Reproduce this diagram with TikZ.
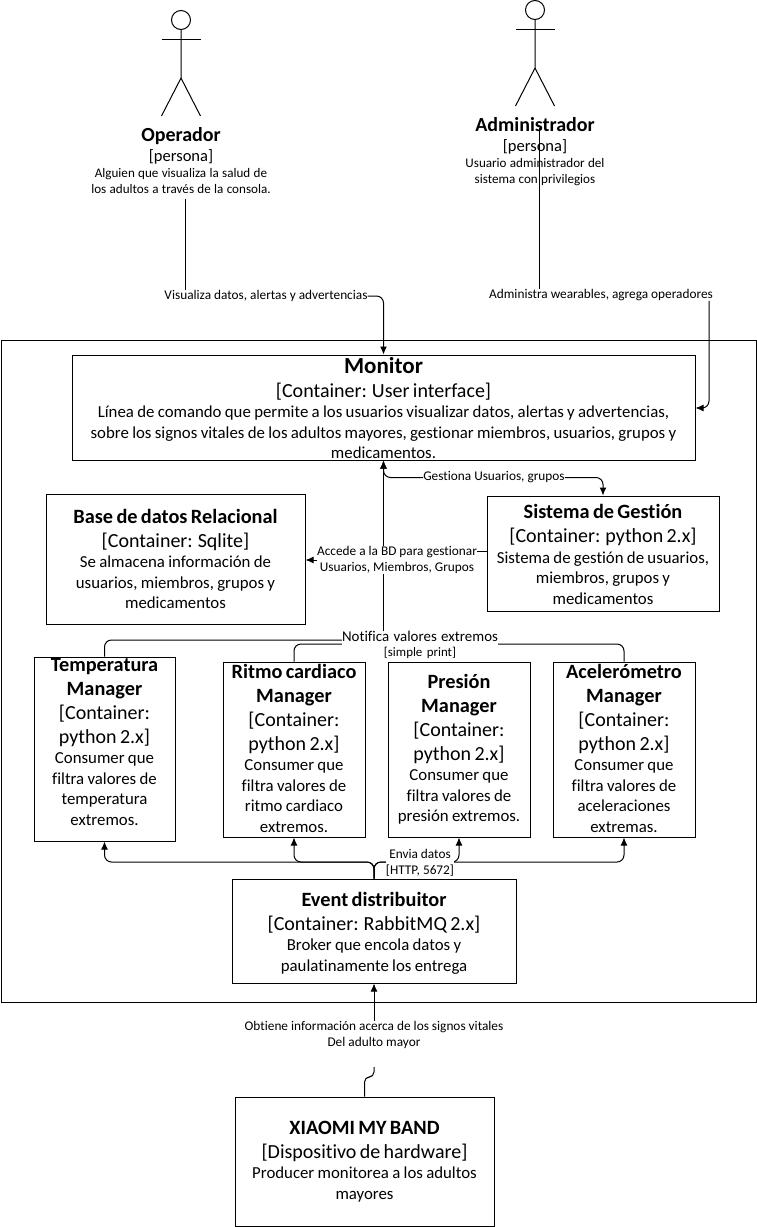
\documentclass[tikz,border=0pt]{standalone}
\usepackage{fontspec}
\usetikzlibrary{arrows.meta}
\setmainfont[Ligatures=NoCommon]{Carlito}
\newcommand{\ctitle}[1]{{\fontsize{20.3}{24}\selectfont\bfseries #1\par}}
\newcommand{\csub}[1]{{\fontsize{20}{24}\selectfont #1\par}}
\newcommand{\cdesc}[1]{{\fontsize{16.8}{20.5}\selectfont #1\par}}
\newcommand{\ptitle}[1]{{\fontsize{20}{22}\selectfont\bfseries #1\par}}
\newcommand{\psub}[1]{{\fontsize{16.5}{20}\selectfont #1\par}}
\newcommand{\pdesc}[1]{{\fontsize{13.1}{16}\selectfont #1\par}}
\newcommand{\actorfig}[2]{%
    \node[head] (#1) at (#2) {};
    \draw[conn] (#1.south) -- ++(0,48) coordinate (#1hip) -- ++(-19.5,38);
    \draw[conn] (#1hip) -- ++(19.5,38);
    \draw[conn] ([yshift=-9.5]#1.south) ++(-19.5,0) -- ++(39,0);
}
\begin{document}
\begin{tikzpicture}[x=1pt,y=-1pt,
    conn/.style={line width=1pt},
    aconn/.style={line width=1pt,-{Latex[length=8pt,width=7pt]},rounded corners=7},
    head/.style={draw,circle,line width=1pt,minimum size=19,inner sep=0pt},
    rnode/.style={draw,rectangle,line width=1pt,inner sep=0pt},
    btext/.style={align=center,inner sep=0pt},
    lbl/.style={fill=white,align=center,inner sep=0pt,font=\fontsize{13.3}{16}\selectfont}]
    \useasboundingbox (0,0) rectangle (757,1227);

    \node[rnode,minimum width=755,minimum height=662] (system) at (378.5,671) {};

    % boxes
    \node[rnode,minimum width=623,minimum height=105] (mon) at (383.5,407.5) {};
    \node[rnode,minimum width=259,minimum height=130] (base) at (175.5,559) {};
    \node[rnode,minimum width=232,minimum height=115] (sis) at (603,553.5) {};
    \node[rnode,minimum width=141,minimum height=184] (temp) at (104.5,749) {};
    \node[rnode,minimum width=142,minimum height=175] (ritmo) at (294,749.5) {};
    \node[rnode,minimum width=142,minimum height=175] (pres) at (459,749.5) {};
    \node[rnode,minimum width=142,minimum height=175] (acel) at (624,749.5) {};
    \node[rnode,minimum width=284,minimum height=104] (event) at (374,931) {};
    \node[rnode,minimum width=259,minimum height=129] (xiaomi) at (364.5,1161.5) {};

    % texts of the boxes
    \node[btext,text width=620] (montxt) at (383.5,408) {{\fontsize{23}{25}\selectfont\bfseries Monitor\par}\csub{[Container: User interface]}\cdesc{Línea de comando que permite a los usuarios visualizar datos, alertas y advertencias,\\sobre los signos vitales de los adultos mayores, gestionar miembros, usuarios, grupos y\\medicamentos.}};
    \node[btext,text width=250] (basetxt) at (base) {\ctitle{Base de datos Relacional}\csub{[Container: Sqlite]}\cdesc{Se almacena información de\\usuarios, miembros, grupos y\\medicamentos}};
    \node[btext,text width=230] (sistxt) at (603,554.5) {\ctitle{Sistema de Gestión}\csub{[Container: python 2.x]}\cdesc{Sistema de gestión de usuarios,\\miembros, grupos y\\medicamentos}};
    \node[btext,text width=140] (temptxt) at (104.5,741.5) {\ctitle{Temperatura\\Manager}\csub{[Container:\\python 2.x]}\cdesc{Consumer que\\filtra valores de\\temperatura\\extremos.}};
    \node[btext,text width=140] (ritmotxt) at (294,748) {\ctitle{Ritmo cardiaco\\Manager}\csub{[Container:\\python 2.x]}\cdesc{Consumer que\\filtra valores de\\ritmo cardiaco\\extremos.}};
    \node[btext,text width=140] (prestxt) at (459,749) {\ctitle{Presión\\Manager}\csub{[Container:\\python 2.x]}\cdesc{Consumer que\\filtra valores de\\presión extremos.}};
    \node[btext,text width=140] (aceltxt) at (624,748) {\ctitle{Acelerómetro\\Manager}\csub{[Container:\\python 2.x]}\cdesc{Consumer que\\filtra valores de\\aceleraciones\\extremas.}};
    \node[btext,text width=280] (eventtxt) at (374,933) {\ctitle{Event distribuitor}\csub{[Container: RabbitMQ 2.x]}\cdesc{Broker que encola datos y\\paulatinamente los entrega}};
    \node[btext,text width=250] (xiaomitxt) at (xiaomi) {\ctitle{XIAOMI MY BAND}\csub{[Dispositivo de hardware]}\cdesc{Producer monitorea a los adultos\\mayores}};

    % persons
    \actorfig{ophead}{181,20}
    \actorfig{adhead}{535,10}
    \node[btext,text width=220] (oper) at (181,160.5) {\ptitle{Operador}\psub{[persona]}\pdesc{Alguien que visualiza la salud de\\los adultos a través de la consola.}};
    \node[btext,text width=220] (admin) at (535,152) {\ptitle{Administrador}\psub{[persona]}\pdesc{Usuario administrador del\\sistema con privilegios}};

    % connectors
    \node[lbl] (vis) at (266,296) {Visualiza datos, alertas y advertencias};
    \node[lbl] (adm) at (601,295) {Administra wearables, agrega operadores};
    \coordinate (opout) at (185,199);
    \coordinate (adout) at (539,128);
    \coordinate (admbend) at (709,408);
    \draw[conn] (opout) -- (opout |- vis.north);
    \draw[conn] (adout) -- (adout |- adm.north);
    \draw[aconn] (vis.east) -| (mon.north);
    \draw[aconn] (adm.south -| admbend) -- (admbend) -- (mon.east |- admbend);

    \coordinate (bus) at (374,862);
    \draw[aconn] (event.north) -- (bus) -| (temp.south);
    \draw[aconn] (event.north) -- (bus) -| (ritmo.south);
    \draw[aconn] (event.north) -- (bus) -| (acel.south);
    \draw[aconn] (event.north) -- (bus) -| (pres.south);
    \node[lbl] (envia) at (420,862.5) {Envia datos\\{}[HTTP, 5672]};

    \node[lbl,text width=156] (notif) at (420,645) {{\fontsize{14.9}{17}\selectfont Notifica valores extremos\par}{\fontsize{12.9}{15}\selectfont [simple print]\par}};
    \draw[aconn] (notif.north -| mon.south) -- (mon.south);
    \draw[aconn,-] ([yshift=5]notif.west) -| (temp.north);
    \draw[aconn,-] ([yshift=1]notif.west) -| (ritmo.north);
    \draw[aconn,-] ([yshift=1]notif.east) -| (acel.north);

    \node[lbl] (gest) at (494,477.5) {Gestiona Usuarios, grupos};
    \draw[aconn] (gest.west) -| (mon.south);
    \draw[aconn] (gest.east) -| (sis.north);

    \node[lbl] (accede) at (397,560) {Accede a la BD para gestionar\\Usuarios, Miembros, Grupos};
    \coordinate (acline) at (0,551);
    \draw[conn] (sis.west |- acline) -- (accede.east |- acline);
    \draw[aconn] (accede.west) -- (accede.west -| base.east);

    \node[lbl] (obt) at (374,1035) {Obtiene información acerca de los signos vitales\\Del adulto mayor};
    \coordinate (wigtop) at (374,1067);
    \draw[aconn] (obt.north) -- (event.south);
    \draw[conn,rounded corners=5] (xiaomi.north) |- (374,1077) -- (wigtop);
\end{tikzpicture}
\end{document}
